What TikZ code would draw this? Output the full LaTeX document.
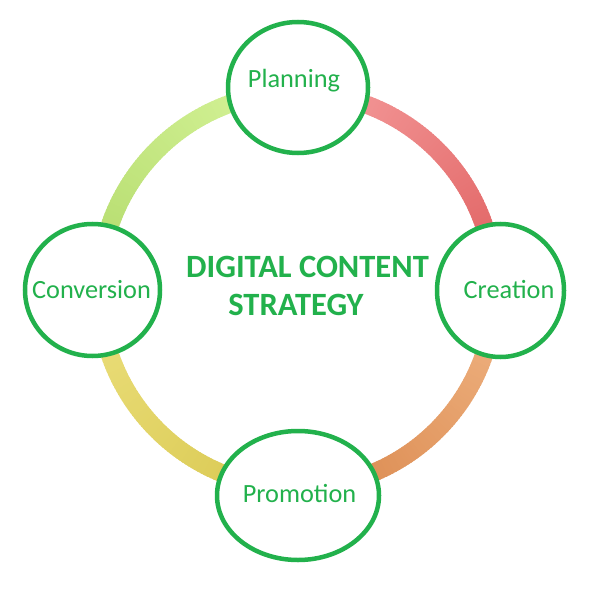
\documentclass[tikz,border=0pt]{standalone}
\usepackage{fontspec}
\setmainfont{Carlito}
\usetikzlibrary{shapes.geometric,calc}
\definecolor{cgreen}{HTML}{22B14C}
\definecolor{gA}{HTML}{D8F59C}
\definecolor{gB}{HTML}{B2DA6A}
\definecolor{rA}{HTML}{F6A0A0}
\definecolor{rB}{HTML}{DF5E5E}
\definecolor{oA}{HTML}{F0B585}
\definecolor{oB}{HTML}{D9864A}
\definecolor{yA}{HTML}{ECE07E}
\definecolor{yB}{HTML}{D8C74E}
\tikzset{
  stage/.style={ellipse, draw=cgreen, line width=4.5bp, fill=white, inner sep=0pt},
  stagetext/.style={anchor=base, inner sep=0pt, text=cgreen, font=\fontsize{26.3bp}{30bp}\selectfont},
  titletext/.style={anchor=base, inner sep=0pt, text=cgreen, font=\fontsize{32.5bp}{36bp}\selectfont\bfseries},
  ringseg/.style={line width=18bp, line cap=butt}
}
\begin{document}
\begin{tikzpicture}[x=1bp,y=-1bp]
\useasboundingbox[fill=white] (0,0) rectangle (598,594);
\coordinate (c) at (297,290);
% ring quadrants with colour gradients (visual angles, counter-clockwise)
% green: 90 (top) -> 180 (left)
\foreach \i in {0,...,89}{
  \pgfmathsetmacro{\p}{100-100*\i/89}
  \draw[ringseg, draw=gA!\p!gB] (c) ++({-(90+\i)}:198) arc[start angle={-(90+\i)}, end angle={-(91.6+\i)}, radius=198];
}
% red: 90 (top) -> 0 (right)
\foreach \i in {0,...,89}{
  \pgfmathsetmacro{\p}{100-100*\i/89}
  \draw[ringseg, draw=rA!\p!rB] (c) ++({-(90-\i)}:198) arc[start angle={-(90-\i)}, end angle={-(88.4-\i)}, radius=198];
}
% orange: 0 (right) -> -90 (bottom)
\foreach \i in {0,...,89}{
  \pgfmathsetmacro{\p}{100-100*\i/89}
  \draw[ringseg, draw=oA!\p!oB] (c) ++({\i}:198) arc[start angle={\i}, end angle={\i+1.6}, radius=198];
}
% yellow: 180 (left) -> 270 (bottom)
\foreach \i in {0,...,89}{
  \pgfmathsetmacro{\p}{100-100*\i/89}
  \draw[ringseg, draw=yA!\p!yB] (c) ++({-(180+\i)}:198) arc[start angle={-(180+\i)}, end angle={-(181.6+\i)}, radius=198];
}
% stage circles
\node[stage, minimum width=140bp, minimum height=131bp] (plan) at (298,87.5) {};
\node[stage, minimum width=135bp, minimum height=132bp] (conv) at (92.5,290) {};
\node[stage, minimum width=127bp, minimum height=133bp] (crea) at (500.5,290.5) {};
\node[stage, minimum width=162bp, minimum height=129bp] (prom) at (298,495.5) {};
% labels
\node[stagetext] (planT) at (294,88) {Planning};
\node[stagetext] (convT) at (91.5,298) {Conversion};
\node[stagetext] (creaT) at (509,298) {Creation};
\node[stagetext] (promT) at (299.5,502) {Promotion};
\node[titletext] (title1) at (307.5,277) {DIGITAL CONTENT};
\node[titletext] (title2) at (296,315) {STRATEGY};
\end{tikzpicture}
\end{document}
